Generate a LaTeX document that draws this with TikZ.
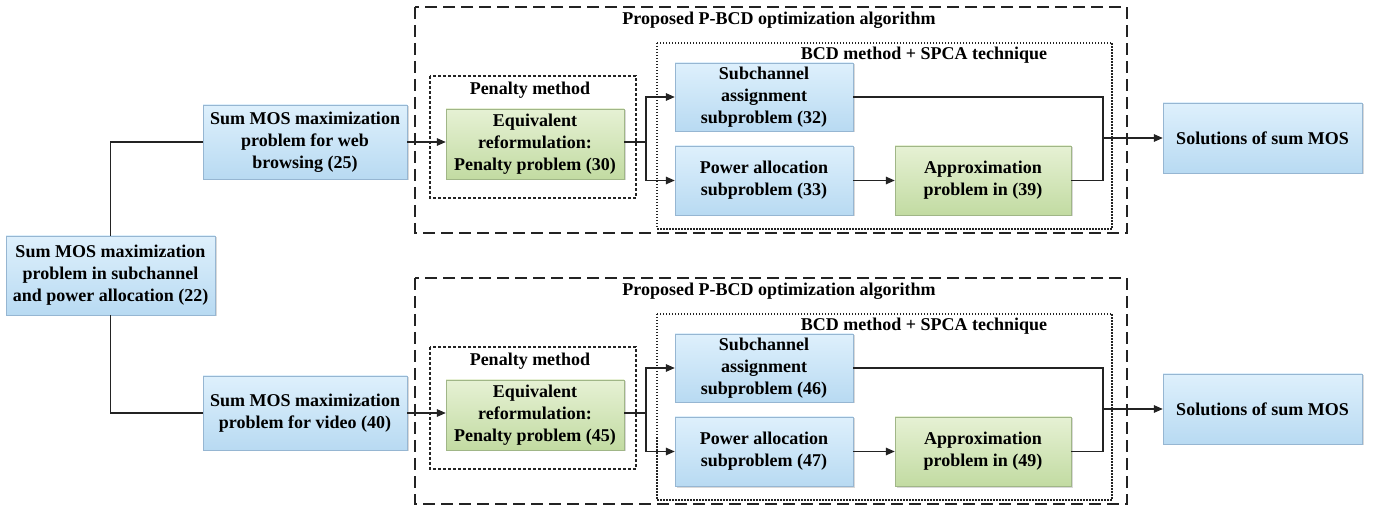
\documentclass[tikz,border=0pt]{standalone}
\usepackage{fontspec}
\setmainfont{Liberation Serif}
\usetikzlibrary{arrows.meta,shadows}
\definecolor{bluetop}{RGB}{222,240,252}
\definecolor{bluebot}{RGB}{184,218,242}
\definecolor{blueline}{RGB}{150,182,210}
\definecolor{greentop}{RGB}{230,241,212}
\definecolor{greenbot}{RGB}{194,219,162}
\definecolor{greenline}{RGB}{160,182,135}
\definecolor{wire}{RGB}{35,35,35}
\begin{document}
\begin{tikzpicture}[x=1pt,y=-1pt,
font = \fontsize{18}{22}\selectfont\bfseries,
bluebox/.style  = {draw=blueline, top color=bluetop, bottom color=bluebot, align=center,
                   inner sep=1pt, drop shadow={opacity=0.3, shadow xshift=1.5pt, shadow yshift=-1.5pt}},
greenbox/.style = {draw=greenline, top color=greentop, bottom color=greenbot, align=center,
                   inner sep=1pt, drop shadow={opacity=0.3, shadow xshift=1.5pt, shadow yshift=-1.5pt}},
outerbox/.style = {draw=wire, line width=1.1pt, dash pattern=on 12pt off 6pt},
penbox/.style   = {draw=wire, line width=1.1pt, dash pattern=on 3pt off 2pt},
innerbox/.style = {draw=wire, line width=1.3pt, dash pattern=on 1.5pt off 1.5pt},
line/.style     = {draw=wire, line width=1.4pt},
conn/.style     = {line, -{Triangle[length=9pt,width=7.5pt]}}
                    ]
\useasboundingbox (0,0) rectangle (1382,510);
%
\node[bluebox, minimum width=209pt, minimum height=79pt] (main) at (110.5,275.5)
    {Sum MOS maximization\\ problem  in subchannel\\ and power allocation (22)};
%
    \foreach \r/\off/\webtxt/\a/\b/\c/\d in {1/0/{problem for web\\ browsing  (25)}/30/32/33/39,
                                             2/271/{problem for video (40)}/45/46/47/49}
{
    % frames
    \draw[outerbox] (415,7+\off) rectangle (1127,233+\off);
    \draw[penbox] (430,76+\off) rectangle (636,198+\off);
    \draw[innerbox] (657,43+\off) rectangle (1112,229+\off);
    \node (ttl\r) at (779,20+\off) {Proposed P-BCD optimization algorithm};
    \node (pen\r) at (530,90+\off) {Penalty method};
    \node (bcd\r) at (924,55+\off) {BCD method + SPCA technique};
    % boxes
    \node[bluebox, minimum width=204pt, minimum height=74pt] (web\r) at (305,142+\off)
        {Sum MOS maximization\\ \webtxt};
    \node[greenbox, minimum width=178pt, minimum height=70pt] (eqv\r) at (535,144+\off)
        {Equivalent\\ reformulation:\\ Penalty problem (\a)};
    \node[bluebox, minimum width=178pt, minimum height=68pt] (sub\r) at (764,97+\off)
        {Subchannel\\ assignment\\ subproblem (\b)};
    \node[bluebox, minimum width=178pt, minimum height=69pt] (pow\r) at (764,180.5+\off)
        {Power allocation\\ subproblem (\c)};
    \node[greenbox, minimum width=176pt, minimum height=69pt] (apx\r) at (983,180.5+\off)
        {Approximation\\ problem in (\d)};
    \node[bluebox, minimum width=199pt, minimum height=70pt] (sol\r) at (1262.5,138+\off)
        {Solutions of sum MOS};
    % connectors
    \coordinate (spl\r) at (646,142+\off);
    \coordinate (mrg\r) at (1103,138+\off);
    \draw[conn] (web\r.east) -- (web\r.east -| eqv\r.west);
    \draw[line] (web\r.east -| eqv\r.east) -- (spl\r);
    \draw[conn] (spl\r) |- (sub\r.west);
    \draw[conn] (spl\r) |- (pow\r.west);
    \draw[conn] (pow\r) -- (apx\r);
    \draw[line] (sub\r.east) -| (mrg\r) |- (apx\r.east);
    \draw[conn] (mrg\r) -- (sol\r.west);
}
\draw[line] (main.north) |- (web1.west);
\draw[line] (main.south) |- (web2.west);

\end{tikzpicture}
\end{document}
